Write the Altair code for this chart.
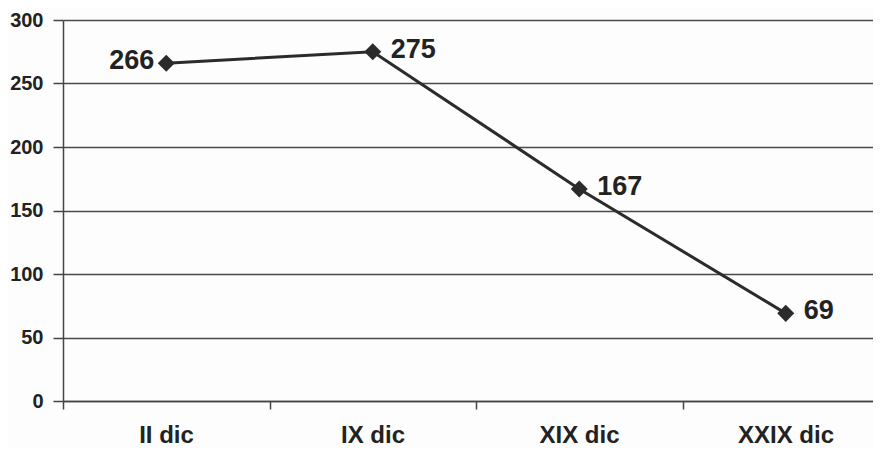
import altair as alt
import pandas as pd

categories = ["II dic", "IX dic", "XIX dic", "XXIX dic"]
values = [266, 275, 167, 69]
label_side = ["left", "right", "right", "right"]

df = pd.DataFrame({
    "cat": categories,
    "pos": [i + 0.5 for i in range(len(categories))],
    "value": values,
    "side": label_side,
})

label_expr = "datum.value == 0 ? 'II dic' : datum.value == 1 ? 'IX dic' : datum.value == 2 ? 'XIX dic' : datum.value == 3 ? 'XXIX dic' : ''"

x = alt.X("pos:Q", scale=alt.Scale(domain=[0, 810 / 206.5], nice=False, zero=False),
          axis=alt.Axis(values=[0, 1, 2, 3], labelExpr=label_expr, labelOffset=103,
                        grid=False, title=None, domain=True, domainColor="#444",
                        domainWidth=1.5, tickColor="#444", tickSize=8, tickWidth=1.5,
                        labelFont="Liberation Sans", labelFontSize=24, labelFontWeight="bold",
                        labelColor="#222", labelPadding=14, labelFlush=False))
y = alt.Y("value:Q", scale=alt.Scale(domain=[0, 300], nice=False),
          axis=alt.Axis(values=[0, 50, 100, 150, 200, 250, 300], grid=True, gridColor="#4a4a4a",
                        gridWidth=1.5, gridOpacity=1, title=None, domainColor="#444",
                        domainWidth=1.5, tickColor="#444", tickSize=10, tickWidth=1.5,
                        labelFont="Liberation Sans", labelFontSize=20, labelFontWeight="bold",
                        labelColor="#222", labelPadding=10))

base = alt.Chart(df)
line = base.mark_line(color="#2b2b2b", strokeWidth=3).encode(x=x, y=y)
pts = base.mark_point(shape="diamond", filled=True, color="#2b2b2b", size=290, opacity=1).encode(x=x, y=y)
txt_r = base.transform_filter("datum.side == 'right'").mark_text(
    align="left", dx=18, dy=-2, font="Liberation Sans", fontSize=27, fontWeight="bold", color="#222"
).encode(x=x, y=y, text="value:Q")
txt_l = base.transform_filter("datum.side == 'left'").mark_text(
    align="right", dx=-12, dy=-2, font="Liberation Sans", fontSize=27, fontWeight="bold", color="#222"
).encode(x=x, y=y, text="value:Q")

chart = alt.layer(line, pts, txt_r, txt_l).properties(
    width=810, height=381,
    autosize=alt.AutoSizeParams(type="none"),
    padding={"left": 55, "top": 12, "right": 0, "bottom": 47},
    background="#fdfdfd",
).configure_view(stroke=None)

chart.save("out.html", embed_options={"renderer": "svg", "actions": False})
